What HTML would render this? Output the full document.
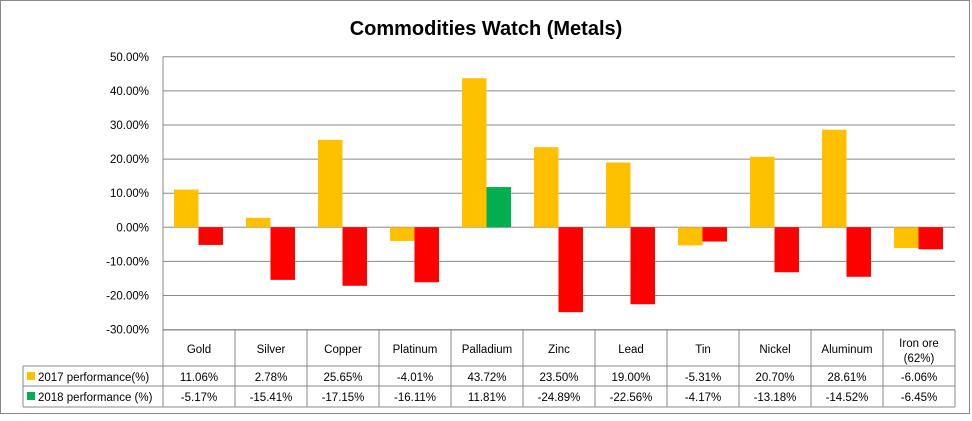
<!DOCTYPE html>
<html><head><meta charset="utf-8"><style>
body{margin:0;background:#fff;font-family:"Liberation Sans",sans-serif}
svg text{font-family:"Liberation Sans",sans-serif;fill:#000}
</style></head><body>
<svg width="972" height="416" viewBox="0 0 972 416">
<rect x="0.5" y="0.5" width="969" height="413" fill="#fff" stroke="#888"/>
<text x="486" y="35" text-anchor="middle" font-size="20" font-weight="bold">Commodities Watch (Metals)</text>
<g id="grid"></g><g id="bars"></g><g id="table"></g>
</svg>
<script>
const categories=["Gold","Silver","Copper","Platinum","Palladium","Zinc","Lead","Tin","Nickel","Aluminum","Iron ore|(62%)"];
const s2017=[11.06,2.78,25.65,-4.01,43.72,23.50,19.00,-5.31,20.70,28.61,-6.06];
const s2018=[-5.17,-15.41,-17.15,-16.11,11.81,-24.89,-22.56,-4.17,-13.18,-14.52,-6.45];
const ticks=[50,40,30,20,10,0,-10,-20,-30];
const NS="http://www.w3.org/2000/svg";
const L=163,colW=72,y0=227.3,pxPer=3.41;
const y=v=>y0-v*pxPer;
function mk(tag,attrs,parent,text){const e=document.createElementNS(NS,tag);for(const k in attrs)e.setAttribute(k,attrs[k]);if(text!==undefined)e.textContent=text;parent.appendChild(e);return e;}
const grid=document.getElementById('grid'),bars=document.getElementById('bars'),tb=document.getElementById('table');
const R=L+colW*categories.length;
ticks.forEach(t=>{
 const ln=mk('line',{x1:L,x2:R,y1:y(t),y2:y(t),stroke:'#888','stroke-width':1},grid);
 
 
 const tx=mk('text',{x:149,y:y(t)+4,'text-anchor':'end','font-size':11.5},grid,t.toFixed(2)+'%');
 
 
});
mk('line',{x1:L,x2:L,y1:y(50),y2:407,stroke:'#888'},grid);
const bw=24.5;
categories.forEach((c,i)=>{
 const x=L+i*colW+11;
 const a=s2017[i],b=s2018[i];
 const r1=mk('rect',{x:x,y:Math.min(y(a),y0),width:bw,height:Math.abs(a)*pxPer,fill:'#FFC000'},bars);
 
 
 const r2=mk('rect',{x:x+bw,y:Math.min(y(b),y0),width:bw,height:Math.abs(b)*pxPer,fill:b<0?'#FF0000':'#00B050'},bars);
 
 
});
// table
const T0=330,T1=366,T2=386,T3=407,LX=23;
const lines=[[L,T0,R,T0],[LX,T1,R,T1],[LX,T2,R,T2],[LX,T3,R,T3],[LX,T1,LX,T3]];
for(let i=0;i<=categories.length;i++){lines.push([L+i*colW,T0,L+i*colW,T3]);}
lines.forEach(l=>mk('line',{x1:l[0],y1:l[1],x2:l[2],y2:l[3],stroke:'#888'},tb));
categories.forEach((c,i)=>{
 const cx=L+i*colW+colW/2;const parts=c.split('|');
 parts.forEach((p,j)=>{
  const t=mk('text',{x:cx,y:(parts.length>1?T0+17+j*15:T0+23),'text-anchor':'middle','font-size':11.5},tb,p);
  
  
 });
 const v1=mk('text',{x:cx,y:T1+15,'text-anchor':'middle','font-size':11.5},tb,s2017[i].toFixed(2)+'%');
 
 
 const v2=mk('text',{x:cx,y:T2+15,'text-anchor':'middle','font-size':11.5},tb,s2018[i].toFixed(2)+'%');
 
 
});
const k1=mk('rect',{x:27,y:T1+6,width:8,height:8,fill:'#FFC000'},tb);


const k2=mk('rect',{x:27,y:T2+6,width:8,height:8,fill:'#00B050'},tb);


const l1=mk('text',{x:38,y:T1+15,'font-size':11.5},tb,'2017 performance(%)');


const l2=mk('text',{x:38,y:T2+15,'font-size':11.5},tb,'2018 performance (%)');


</script>
</body></html>
